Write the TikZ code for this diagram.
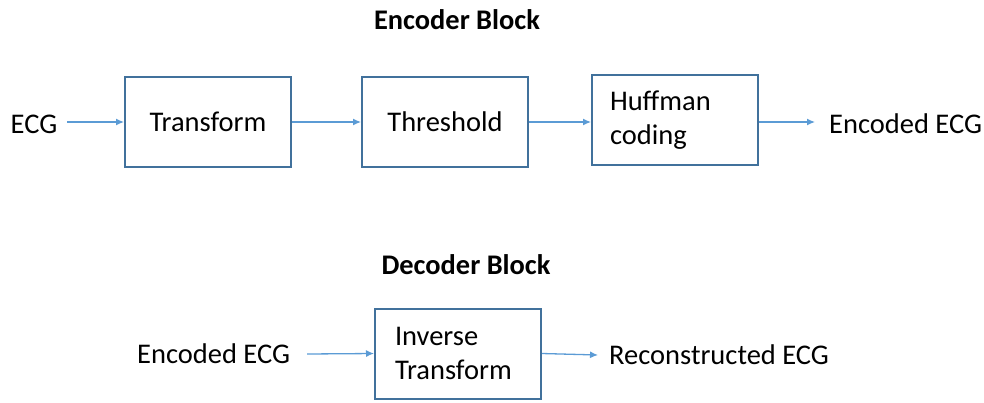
\documentclass[tikz,border=0pt]{standalone}
\usepackage{fontspec}
\setmainfont{Carlito}
\usetikzlibrary{arrows.meta}
\definecolor{boxc}{HTML}{41719C}
\definecolor{arrc}{HTML}{5B9BD5}
\begin{document}
\begin{tikzpicture}[x=1pt,y=-1pt,
  blk/.style={draw=boxc,line width=2pt,minimum width=166pt,minimum height=90pt,inner sep=0pt,font=\fontsize{28.5}{34}\selectfont},
  blkl/.style={blk,text width=130pt,align=left,inner xsep=18pt},
  lbl/.style={inner sep=0pt,font=\fontsize{28.5}{34}\selectfont},
  ttl/.style={inner sep=0pt,font=\fontsize{28.4}{34}\selectfont\bfseries},
  arr/.style={draw=arrc,line width=1.3pt,-{Latex[length=8pt,width=7pt]}}]
\useasboundingbox (0,0) rectangle (984,402);
\node[ttl] (enc) at (457,20) {Encoder Block};
\node[ttl] (dec) at (466,265) {Decoder Block};
\node[lbl] (ecg) at (34,124) {ECG};
\node[blk] (tr) at (208,122) {Transform};
\node[blk] (th) at (445,122) {Threshold};
\node[blkl] (hc) at (675,120) {Huffman\\coding};
\node[lbl,anchor=west] (eout) at (829,124) {Encoded ECG};
\coordinate (ecgr) at (67,122);
\coordinate (hcr) at (815,122);
\draw[arr] (ecgr) -- (tr.west);
\draw[arr] (tr.east) -- (th.west);
\draw[arr] (th.east) -- (hc.west |- th.east);
\draw[arr] (hc.east |- th.east) -- (hcr);
\node[lbl,anchor=west] (ein) at (137,354) {Encoded ECG};
\node[blkl,text width=126pt,inner xsep=20pt] (it) at (458,353.5) {Inverse\\Transform};
\node[lbl,anchor=west] (rec) at (609,355) {Reconstructed ECG};
\coordinate (einr) at (307,354);
\coordinate (itr) at (598,355);
\draw[arr] (einr) -- (it.west);
\draw[arr] (it.east) -- (itr);
\end{tikzpicture}
\end{document}
